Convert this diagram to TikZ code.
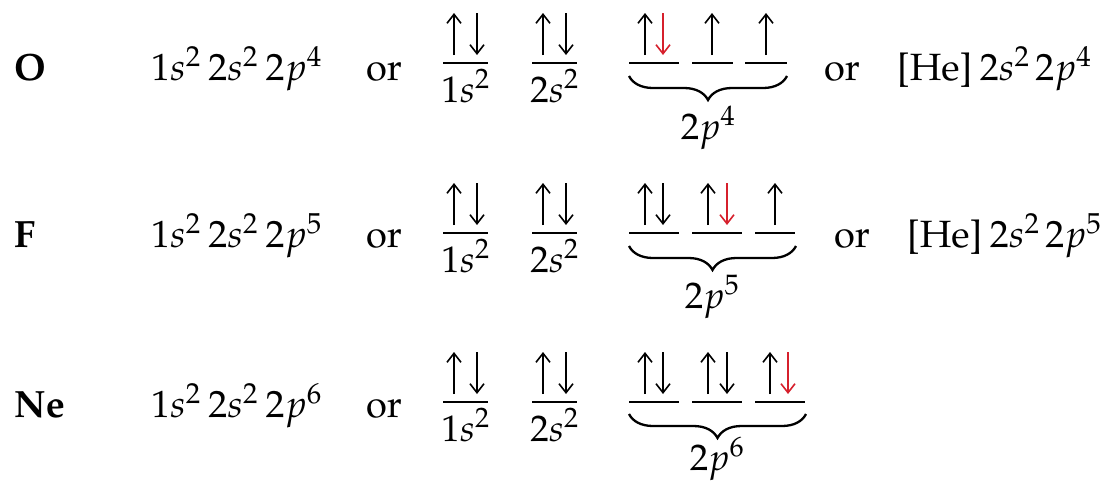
\documentclass[tikz,border=0pt]{standalone}
\usepackage[T1]{fontenc}
\usepackage{mathpazo}
\usetikzlibrary{arrows.meta,decorations.pathreplacing}
\definecolor{spinred}{RGB}{214,32,44}
\tikzset{
  txt/.style={inner sep=0pt,anchor=base west,font=\fontsize{38}{45}\selectfont},
  lbl/.style={inner sep=0pt,anchor=base,font=\fontsize{37}{44}\selectfont},
  orbline/.style={line width=2.2pt},
  spin/.style={line width=1.6pt,-{Straight Barb[length=9pt,width=14pt,line width=1.6pt]}},
  spinhot/.style={spin,draw=spinred},
  subshell/.style={line width=2.3pt,decorate,decoration={brace,mirror,amplitude=24pt}}
}
% an orbital line: name, left x, right x, height
\newcommand\orbit[4]{\draw[orbline] (#2,#4) coordinate (#1-l) -- (#3,#4) coordinate (#1-r);}
% spin arrows standing on an orbital line at height #2
\newcommand\upspin[3][spin]{\draw[#1] (#2,{#3-8}) -- (#2,{#3-50});}
\newcommand\downspin[3][spin]{\draw[#1] (#2,{#3-50}) -- (#2,{#3-8});}
% gap between the subshells of a written configuration
\newcommand\gp{\hspace{0.2em}}
\begin{document}
\begin{tikzpicture}[x=1pt,y=-1pt]
\useasboundingbox (0,0) rectangle (1110,483);

% ---------------- oxygen ----------------
\node[txt] (symO) at (14,80) {\textbf{O}};
\node[txt] (cfgO) at (151,80) {$1s^2$\gp$2s^2$\gp$2p^4$};
\node[txt] (orO1) at (366,80) {or};
\orbit{O1s}{443}{488}{63}
\orbit{O2s}{532}{577}{63}
\orbit{O2pa}{629}{679}{63}
\orbit{O2pb}{692}{733}{63}
\orbit{O2pc}{745}{787}{63}
\upspin{454}{63}\downspin{477}{63}
\upspin{543}{63}\downspin{566}{63}
\upspin{645}{63}\downspin[spinhot]{663}{63}
\upspin{712}{63}
\upspin{766}{63}
\node[lbl] (O1sl) at (465.5,102) {$1s^2$};
\node[lbl] (O2sl) at (554.5,102) {$2s^2$};
\draw[subshell] (629,76) -- (787,76);
\node[lbl] (O2pl) at (708,139) {$2p^4$};
\node[txt] (orO2) at (824,80) {or};
\node[txt] (shO) at (897,80) {[He]\hspace{0.2em}$2s^2$\hspace{0.15em}$2p^4$};

% ---------------- fluorine ----------------
\node[txt] (symF) at (14,247) {\textbf{F}};
\node[txt] (cfgF) at (151,247) {$1s^2$\gp$2s^2$\gp$2p^5$};
\node[txt] (orF1) at (366,247) {or};
\orbit{F1s}{443}{488}{233}
\orbit{F2s}{532}{577}{233}
\orbit{F2pa}{629}{679}{233}
\orbit{F2pb}{692}{742}{233}
\orbit{F2pc}{755}{795}{233}
\upspin{454}{233}\downspin{477}{233}
\upspin{543}{233}\downspin{566}{233}
\upspin{645}{233}\downspin{663}{233}
\upspin{708}{233}\downspin[spinhot]{727}{233}
\upspin{775}{233}
\node[lbl] (F1sl) at (465.5,272) {$1s^2$};
\node[lbl] (F2sl) at (554.5,272) {$2s^2$};
\draw[subshell] (629,246) -- (796,246);
\node[lbl] (F2pl) at (712,308) {$2p^5$};
\node[txt] (orF2) at (834,247) {or};
\node[txt] (shF) at (907,247) {[He]\hspace{0.2em}$2s^2$\hspace{0.15em}$2p^5$};

% ---------------- neon ----------------
\node[txt] (symNe) at (14,417) {\textbf{Ne}};
\node[txt] (cfgNe) at (151,417) {$1s^2$\gp$2s^2$\gp$2p^6$};
\node[txt] (orNe1) at (366,417) {or};
\orbit{Ne1s}{443}{488}{402}
\orbit{Ne2s}{532}{577}{402}
\orbit{Ne2pa}{629}{679}{402}
\orbit{Ne2pb}{692}{742}{402}
\orbit{Ne2pc}{755}{805}{402}
\upspin{454}{402}\downspin{477}{402}
\upspin{543}{402}\downspin{566}{402}
\upspin{645}{402}\downspin{663}{402}
\upspin{708}{402}\downspin{727}{402}
\upspin{770}{402}\downspin[spinhot]{788}{402}
\node[lbl] (Ne1sl) at (465.5,441) {$1s^2$};
\node[lbl] (Ne2sl) at (554.5,441) {$2s^2$};
\draw[subshell] (629,414) -- (806,414);
\node[lbl] (Ne2pl) at (717,470) {$2p^6$};
\end{tikzpicture}
\end{document}
